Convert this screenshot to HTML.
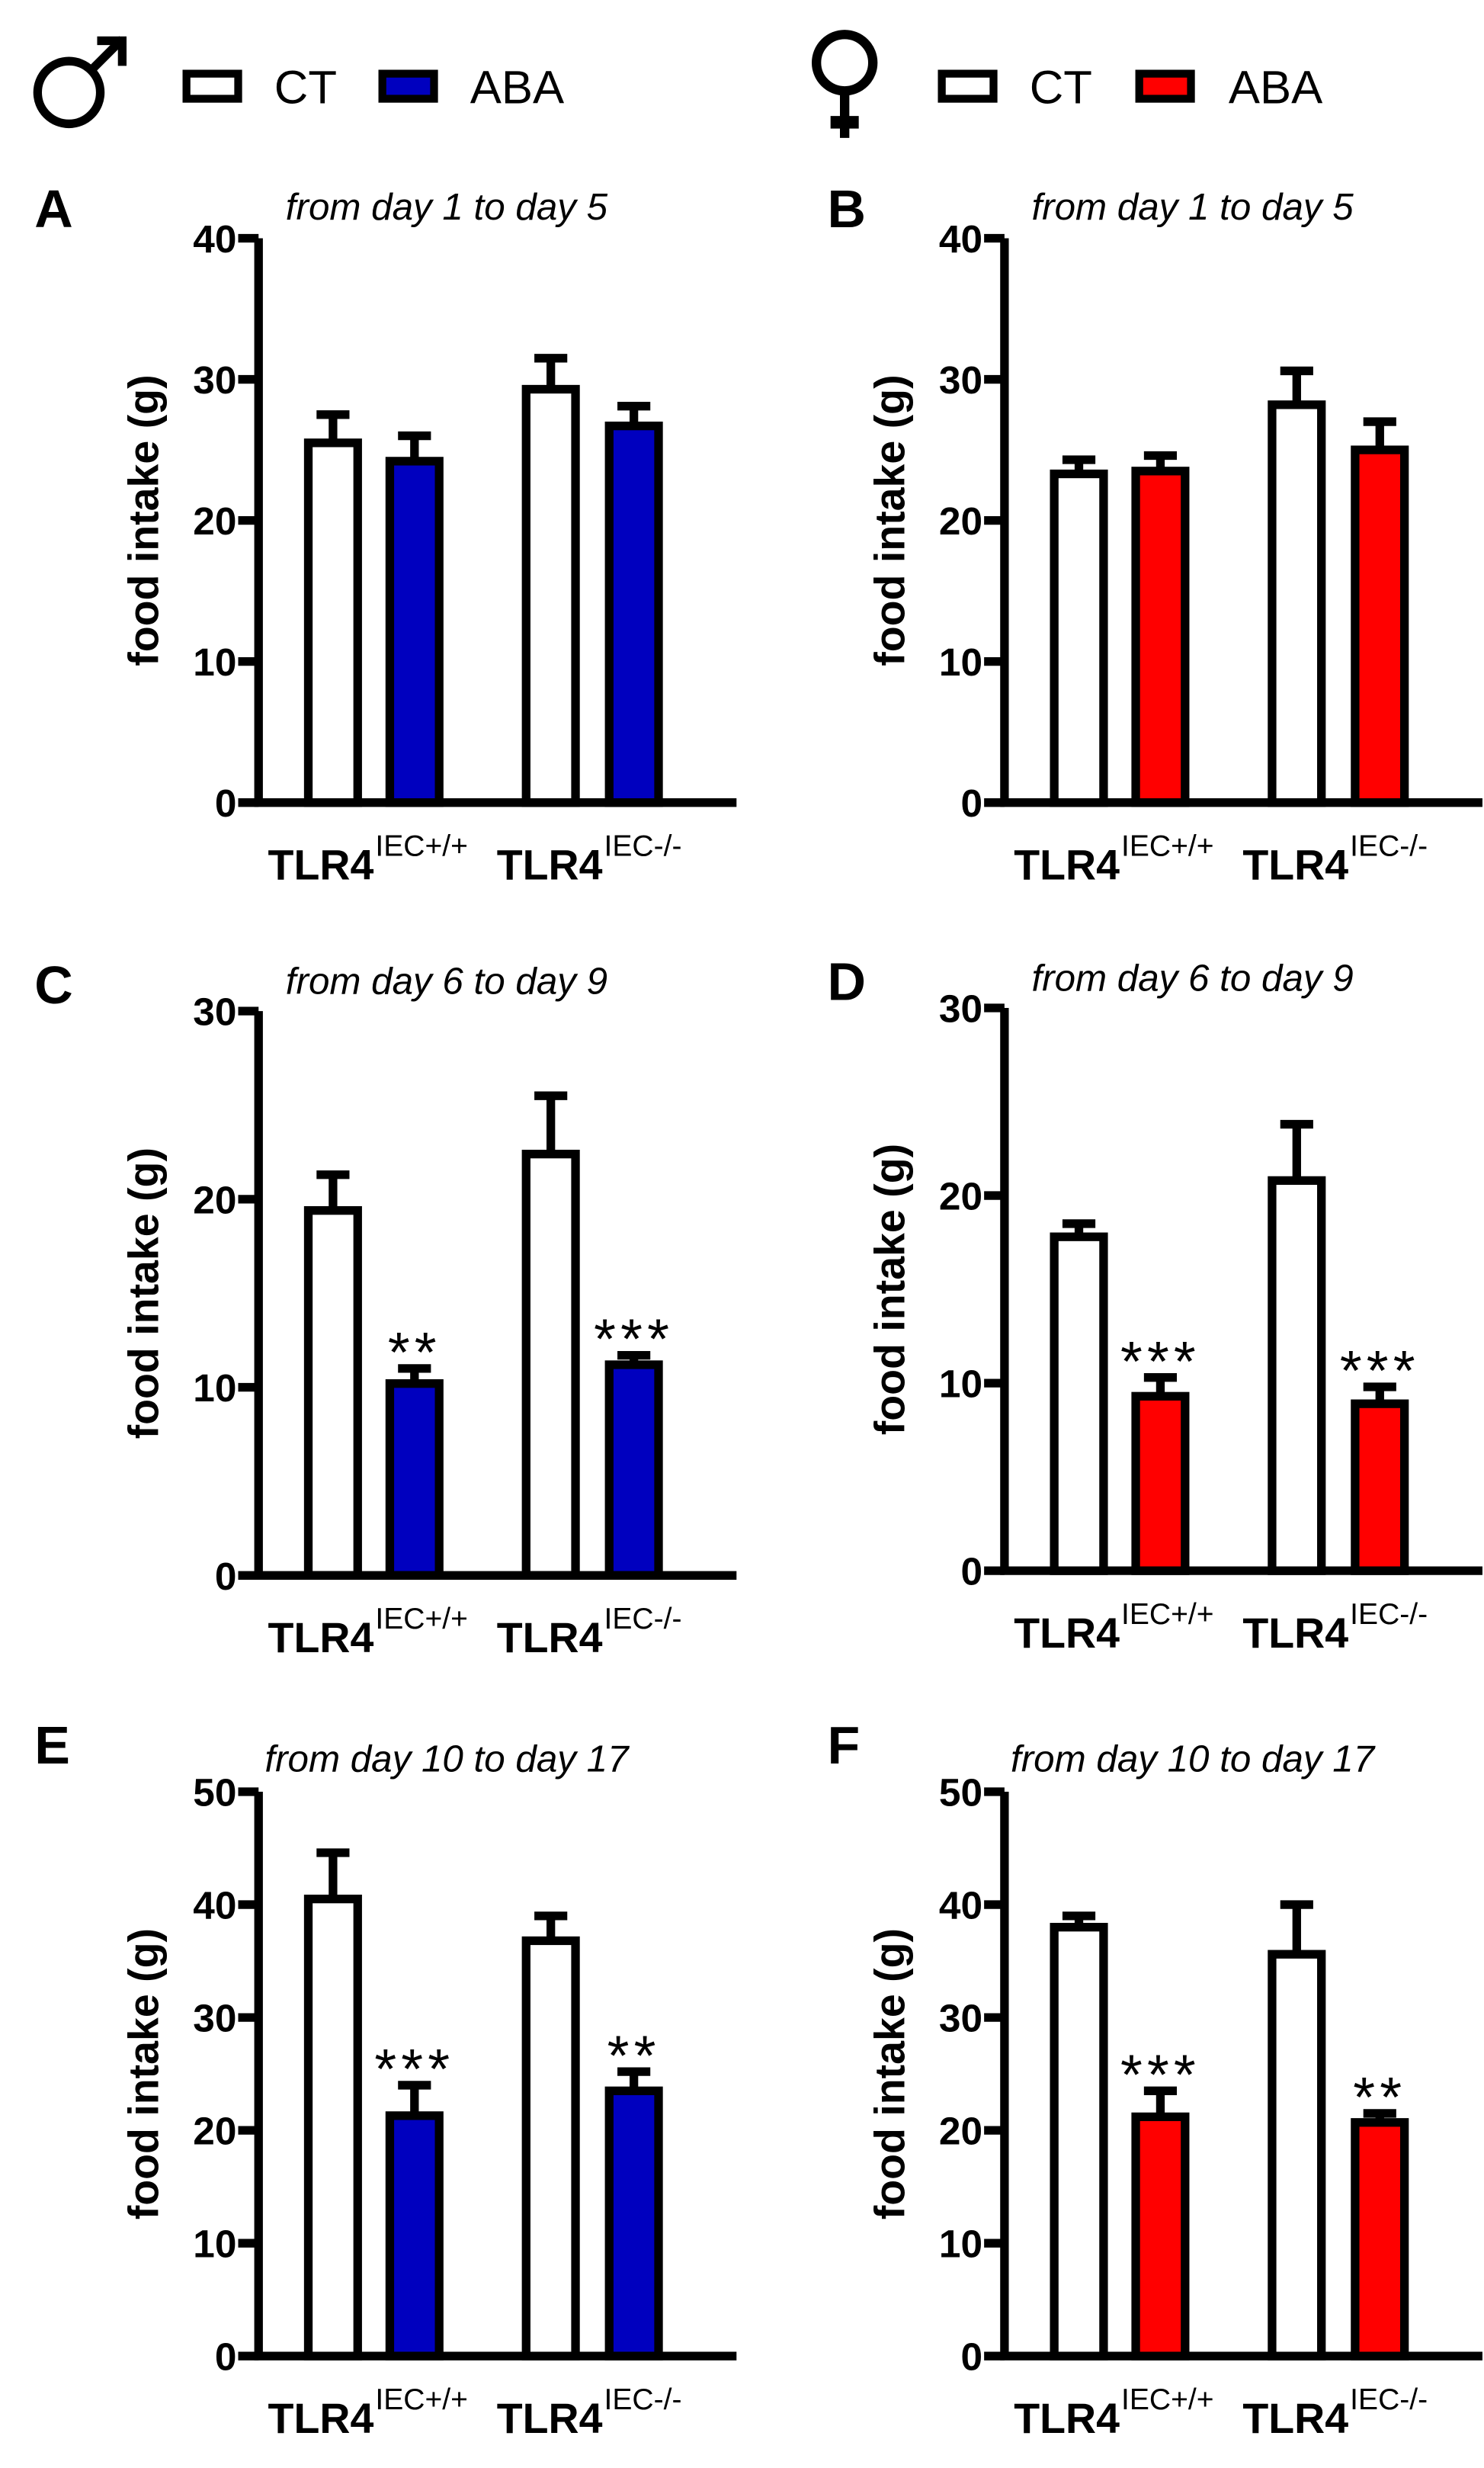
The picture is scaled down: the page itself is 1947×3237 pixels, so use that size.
<!DOCTYPE html>
<html><head><meta charset="utf-8"><style>
html,body{margin:0;padding:0;background:#fff}
svg{display:block}
</style></head><body>
<svg id="fig" xmlns="http://www.w3.org/2000/svg" width="1947" height="3237" viewBox="0 0 947 1574.4" preserveAspectRatio="none" style="font-family:'Liberation Sans', Arial, sans-serif">
  <g>
    <g fill="none" stroke="#000" stroke-width="5.5">
      <circle cx="44" cy="59" r="20"/>
      <line x1="58" y1="45" x2="78" y2="25"/>
      <polyline points="62,26 78,26 78,42"/>
    </g>
    <rect x="119" y="47" width="33" height="16" fill="#fff" stroke="#000" stroke-width="5"/>
    <text x="175" y="66" font-size="30">CT</text>
    <rect x="244" y="47" width="33" height="16" fill="#0000bf" stroke="#000" stroke-width="5"/>
    <text x="300" y="66" font-size="30">ABA</text>
  </g>
  <g>
    <g stroke="#000">
      <ellipse cx="539" cy="40" rx="18" ry="18" fill="none" stroke-width="6"/>
      <line x1="539" y1="58" x2="539" y2="88" stroke-width="6"/>
      <line x1="530" y1="78" x2="548" y2="78" stroke-width="8"/>
    </g>
    <rect x="601" y="47" width="33" height="16" fill="#fff" stroke="#000" stroke-width="5"/>
    <text x="657" y="66" font-size="30">CT</text>
    <rect x="727" y="47" width="33" height="16" fill="#ff0000" stroke="#000" stroke-width="5"/>
    <text x="784" y="66" font-size="30">ABA</text>
  </g>
</svg>
<script>
// data
const panelLetters = ["A","B","C","D","E","F"];
const panelTitles = ["from day 1 to day 5","from day 1 to day 5","from day 6 to day 9","from day 6 to day 9","from day 10 to day 17","from day 10 to day 17"];
const yMaxes = [40,40,30,30,50,50];
const yTicksA = [0,10,20,30,40];
const yTicksC = [0,10,20,30];
const yTicksE = [0,10,20,30,40,50];
const categories = ["TLR4","TLR4"];
const genotypeSup = ["IEC+/+","IEC-/-"];
const meansA = [25.5,24.2,29.3,26.7];
const errsA  = [27.5,26.0,31.5,28.1];
const meansB = [23.3,23.5,28.2,25.0];
const errsB  = [24.3,24.6,30.6,27.0];
const meansC = [19.4,10.2,22.4,11.2];
const errsC  = [21.3,11.0,25.5,11.7];
const meansD = [17.8,9.3,20.8,8.9];
const errsD  = [18.5,10.3,23.8,9.8];
const meansE = [40.5,21.3,36.8,23.5];
const errsE  = [44.6,24.0,39.0,25.2];
const meansF = [38.0,21.2,35.6,20.7];
const errsF  = [39.0,23.5,40.0,21.5];
const starsC = ["","**","","***"];
const starsD = ["","***","","***"];
const starsE = ["","***","","**"];
const starsF = ["","***","","**"];
const starsAB = ["","","",""];

const svg = document.getElementById('fig');
const NS = "http://www.w3.org/2000/svg";
function mk(tag, attrs, parent){ const e=document.createElementNS(NS,tag); for(const k in attrs) e.setAttribute(k,attrs[k]); parent.appendChild(e); return e; }

const layout = [
  {ax:165, top:152, bot:512, lx:22, ly:145, ty:140},
  {ax:641, top:152, bot:512, lx:528, ly:145, ty:140},
  {ax:165, top:645, bot:1005, lx:22, ly:640, ty:634},
  {ax:641, top:643, bot:1002, lx:528, ly:638, ty:632},
  {ax:165, top:1143, bot:1503, lx:22, ly:1125, ty:1130},
  {ax:641, top:1143, bot:1503, lx:528, ly:1125, ty:1130}
];
const allMeans=[meansA,meansB,meansC,meansD,meansE,meansF];
const allErrs=[errsA,errsB,errsC,errsD,errsE,errsF];
const allStars=[starsAB,starsAB,starsC,starsD,starsE,starsF];
const allTicks=[yTicksA,yTicksA,yTicksC,yTicksC,yTicksE,yTicksE];
const barOffsets=[29,81,168,221];
const barW=37;

for(let p=0;p<6;p++){
  const L=layout[p];
  const g=mk('g',{},svg);
  
  
  const y=v=>L.bot-(v/yMaxes[p])*(L.bot-L.top);
  const lt=mk('text',{x:L.lx,y:L.ly,'font-size':34,'font-weight':'bold'},g); lt.textContent=panelLetters[p];
   
  const tt=mk('text',{x:L.ax+120,y:L.ty,'font-size':24,'font-style':'italic','text-anchor':'middle'},g); tt.textContent=panelTitles[p];
   
  const yl=mk('text',{x:0,y:0,'font-size':27,'font-weight':'bold','text-anchor':'middle',transform:`translate(${L.ax-64},${(L.top+L.bot)/2}) rotate(-90)`},g); yl.textContent='food intake (g)';
   
  const means=allMeans[p], errs=allErrs[p], stars=allStars[p];
  for(let i=0;i<4;i++){
    const x0=L.ax+barOffsets[i];
    const cx=x0+barW/2;
    const eb=mk('path',{d:`M${cx},${y(means[i])} V${y(errs[i])} M${cx-10.5},${y(errs[i])} H${cx+10.5}`,stroke:'#000','stroke-width':5.5,fill:'none'},g);
     
    const fill = i%2===0 ? '#fff' : (p%2===0 ? '#0000bf' : '#ff0000');
    const r=mk('rect',{x:x0+2.75,y:y(means[i]),width:barW-5.5,height:L.bot-y(means[i]),fill:fill,stroke:'#000','stroke-width':5.5},g);
     
    if(stars[i]){
      const st=mk('text',{x:cx,y:y(errs[i])+2,'font-size':36,'text-anchor':'middle','letter-spacing':3},g); st.textContent=stars[i];
       
    }
  }
  const axy=mk('path',{d:`M${L.ax},${L.top} V${L.bot+2.75} M${L.ax},${L.bot} H${L.ax+305}`,stroke:'#000','stroke-width':5.5,fill:'none'},g);
   
  for(const t of allTicks[p]){
    mk('line',{x1:L.ax-13,x2:L.ax,y1:y(t),y2:y(t),stroke:'#000','stroke-width':5.5},g);
    const tl=mk('text',{x:L.ax-14,y:y(t)+9,'font-size':25,'font-weight':'bold','text-anchor':'end'},g); tl.textContent=t;
     
  }
  for(let c=0;c<2;c++){
    const cl=mk('text',{x:L.ax+6+c*146,y:L.bot+49,'font-size':27,'font-weight':'bold'},g);
     
    cl.textContent=categories[c];
    const s=mk('tspan',{dy:-15,'font-size':19,'font-weight':'normal',dx:1},cl); s.textContent=genotypeSup[c];
  }
}
</script>
</body></html>
